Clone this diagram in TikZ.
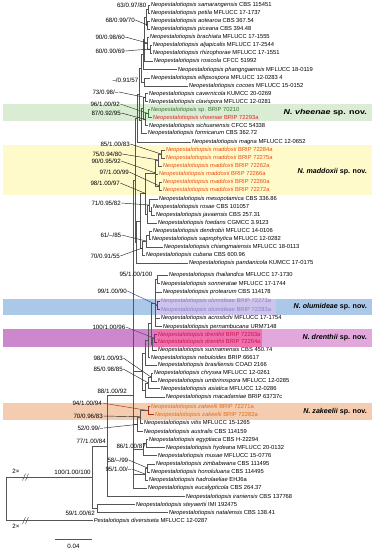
\documentclass[tikz,border=0pt]{standalone}
\usepackage{fontspec}
\setmainfont{Liberation Sans}
\definecolor{treegray}{RGB}{85,85,85}
\definecolor{bandgreen}{RGB}{218,236,212}
\definecolor{bandyellow}{RGB}{255,250,202}
\definecolor{bandblue}{RGB}{172,200,232}
\definecolor{bandlav}{RGB}{205,196,236}
\definecolor{bandpink}{RGB}{226,168,220}
\definecolor{bandpinkL}{RGB}{205,135,205}
\definecolor{bandhot}{RGB}{240,112,172}
\definecolor{bandorange}{RGB}{244,204,176}
\definecolor{txgreen}{RGB}{55,115,55}
\definecolor{txred}{RGB}{232,36,36}
\definecolor{txmad}{RGB}{240,72,22}
\definecolor{txolu}{RGB}{145,125,195}
\definecolor{txdren}{RGB}{195,25,85}
\definecolor{txzak}{RGB}{222,112,30}
\definecolor{lnblue}{RGB}{40,70,150}
\definecolor{lnpurple}{RGB}{125,40,125}
\definecolor{lnbrown}{RGB}{165,50,30}
\definecolor{lngreen}{RGB}{50,130,50}
\tikzset{
  taxon/.style={anchor=west, inner xsep=0.6bp, inner ysep=0pt,
    font=\fontsize{5.8bp}{6.5bp}\selectfont, text height=4.3bp, text depth=1.2bp},
  suplbl/.style={anchor=west, inner sep=0.3bp, font=\fontsize{6.2bp}{7bp}\selectfont},
  br/.style={draw=treegray, line width=0.5bp},
  leader/.style={draw=black!85, line width=0.45bp},
  spname/.style={anchor=east, inner sep=0pt, font=\fontsize{7.1bp}{8bp}\selectfont\bfseries},
}
\newcommand\Np{\textit{Neopestalotiopsis}}
\begin{document}
\begin{tikzpicture}[x=1bp,y=-1bp]
\useasboundingbox (0,0) rectangle (374,550);
\fill[white] (0,0) rectangle (374,550);
% ---------- highlight bands
\fill[bandgreen] (3,104.5) rectangle (372,121.5);
\fill[bandyellow] (3,145) rectangle (372,195);
\fill[bandblue] (3,298.5) rectangle (372,314.5);
\fill[bandlav] (156,298.5) rectangle (276,314.5);
\fill[bandpink] (3,329) rectangle (372,346.5);
\fill[bandpinkL] (3,329) rectangle (153,346.5);
\fill[bandhot] (153,329) rectangle (262,346.5);
\fill[bandorange] (3,402.5) rectangle (372,419.5);
% ---------- species labels
\node[spname, xscale=1.25] (sv) at (367,113) {\textit{N. vheenae} sp. nov.};
\node[spname] (sm) at (367,172) {\textit{N. maddoxii} sp. nov.};
\node[spname] (so) at (367,306.5) {\textit{N. olumideae} sp. nov.};
\node[spname] (sd) at (367,337.5) {\textit{N. drenthii} sp. nov.};
\node[spname] (sz) at (367,411.5) {\textit{N. zakeelii} sp. nov.};
% ---------- taxa
\node[taxon] (L1) at (150,5) {\textit{Neopestalotiopsis samarangensis} CBS 115451};
\node[taxon] (L2) at (150,13) {\textit{Neopestalotiopsis petila} MFLUCC 17-1737};
\node[taxon] (L3) at (150,21) {\textit{Neopestalotiopsis aotearoa} CBS 367.54};
\node[taxon] (L4) at (150,29) {\textit{Neopestalotiopsis piceana} CBS 394.48};
\node[taxon] (L5) at (149,37) {\textit{Neopestalotiopsis brachiata} MFLUCC 17-1555};
\node[taxon] (L6) at (152,45) {\textit{Neopestalotiopsis aljapicalis} MFLUCC 17-2544};
\node[taxon] (L7) at (152,53) {\textit{Neopestalotiopsis rhizophorae} MFLUCC 17-1551};
\node[taxon] (L8) at (153,61) {\textit{Neopestalotiopsis rosicola} CFCC 51992};
\node[taxon] (L9) at (177,69.5) {\textit{Neopestalotiopsis phangngaensis} MFLUCC 18-0119};
\node[taxon] (L10) at (150,78) {\textit{Neopestalotiopsis ellipsospora} MFLUCC 12-0283 4};
\node[taxon] (L11) at (188,86) {\textit{Neopestalotiopsis cocoes} MFLUCC 15-0152};
\node[taxon] (L12) at (148,93.5) {\textit{Neopestalotiopsis cavernicola} KUMCC 20-0269};
\node[taxon] (L13) at (148,101.5) {\textit{Neopestalotiopsis clavispora} MFLUCC 12-0281};
\node[taxon,text=txgreen] (L14) at (150,109.5) {\textit{Neopestalotiopsis} sp. BRIP 70210};
\node[taxon,text=txred] (L15) at (152,117.5) {\textit{Neopestalotiopsis vheenae} BRIP 72293a};
\node[taxon] (L16) at (148,125.5) {\textit{Neopestalotiopsis sichuanensis} CFCC 54338};
\node[taxon] (L17) at (147,133) {\textit{Neopestalotiopsis formicarum} CBS 362.72};
\node[taxon] (L18) at (191,142) {\textit{Neopestalotiopsis magna} MFLUCC 12-0652};
\node[taxon,text=txmad] (L19) at (165,150) {\textit{Neopestalotiopsis maddoxii} BRIP 72284a};
\node[taxon,text=txmad] (L20) at (165,158) {\textit{Neopestalotiopsis maddoxii} BRIP 72275a};
\node[taxon,text=txmad] (L21) at (162,166) {\textit{Neopestalotiopsis maddoxii} BRIP 72262a};
\node[taxon,text=txmad] (L22) at (158,174) {\textit{Neopestalotiopsis maddoxii} BRIP 72266a};
\node[taxon,text=txmad] (L23) at (162,182) {\textit{Neopestalotiopsis maddoxii} BRIP 72260a};
\node[taxon,text=txmad] (L24) at (162,190) {\textit{Neopestalotiopsis maddoxii} BRIP 72272a};
\node[taxon] (L25) at (158,199) {\textit{Neopestalotiopsis mesopotamica} CBS 336.86};
\node[taxon] (L26) at (152,207) {\textit{Neopestalotiopsis rosae} CBS 101057};
\node[taxon] (L27) at (155,215) {\textit{Neopestalotiopsis javaensis} CBS 257.31};
\node[taxon] (L28) at (157,223) {\textit{Neopestalotiopsis foedans} CGMCC 3.9123};
\node[taxon] (L29) at (152,231) {\textit{Neopestalotiopsis dendrobii} MFLUCC 14-0106};
\node[taxon] (L30) at (151,239) {\textit{Neopestalotiopsis saprophytica} MFLUCC 12-0282};
\node[taxon] (L31) at (163,247) {\textit{Neopestalotiopsis chiangmaiensis} MFLUCC 18-0113};
\node[taxon] (L32) at (145,255) {\textit{Neopestalotiopsis cubana} CBS 600.96};
\node[taxon] (L33) at (188,263) {\textit{Neopestalotiopsis pandanicola} KUMCC 17-0175};
\node[taxon] (L34) at (168,275) {\textit{Neopestalotiopsis thailandica} MFLUCC 17-1730};
\node[taxon] (L35) at (160,283.5) {\textit{Neopestalotiopsis sonneratae} MFLUCC 17-1744};
\node[taxon] (L36) at (162,292) {\textit{Neopestalotiopsis protearum} CBS 114178};
\node[taxon,text=txolu] (L37) at (160,301) {\textit{Neopestalotiopsis olumideae} BRIP 72273a};
\node[taxon,text=txolu] (L38) at (160,309.5) {\textit{Neopestalotiopsis olumideae} BRIP 72283a};
\node[taxon] (L39) at (160,318) {\textit{Neopestalotiopsis acrostichi} MFLUCC 17-1754};
\node[taxon] (L40) at (162,326.5) {\textit{Neopestalotiopsis pernambucana} URM7148};
\node[taxon,text=txdren] (L41) at (157,334.5) {\textit{Neopestalotiopsis drenthii} BRIP 72263a};
\node[taxon,text=txdren] (L42) at (157,342) {\textit{Neopestalotiopsis drenthii} BRIP 72264a};
\node[taxon] (L43) at (157,350) {\textit{Neopestalotiopsis surinamensis} CBS 450.74};
\node[taxon] (L44) at (150,357.5) {\textit{Neopestalotiopsis nebuloides} BRIP 66617};
\node[taxon] (L45) at (157,365) {\textit{Neopestalotiopsis brasiliensis} COAD 2166};
\node[taxon] (L46) at (153,373) {\textit{Neopestalotiopsis chrysea} MFLUCC 12-0261};
\node[taxon] (L47) at (157,381) {\textit{Neopestalotiopsis umbrinospora} MFLUCC 12-0285};
\node[taxon] (L48) at (160,388.5) {\textit{Neopestalotiopsis asiatica} MFLUCC 12-0286};
\node[taxon] (L49) at (165,397) {\textit{Neopestalotiopsis macadamiae} BRIP 63737c};
\node[taxon,text=txzak] (L50) at (150,406.5) {\textit{Neopestalotiopsis zakeelii} BRIP 72271a};
\node[taxon,text=txzak] (L51) at (154,414.5) {\textit{Neopestalotiopsis zakeelii} BRIP 72282a};
\node[taxon] (L52) at (143,423) {\textit{Neopestalotiopsis vitis} MFLUCC 15-1265};
\node[taxon] (L53) at (143,431.5) {\textit{Neopestalotiopsis australis} CBS 114159};
\node[taxon] (L54) at (148,439.5) {\textit{Neopestalotiopsis egyptiaca} CBS H-22294};
\node[taxon] (L55) at (165,447.5) {\textit{Neopestalotiopsis hydeana} MFLUCC 20-0132};
\node[taxon] (L56) at (157,455.5) {\textit{Neopestalotiopsis musae} MFLUCC 15-0776};
\node[taxon] (L57) at (155,464) {\textit{Neopestalotiopsis zimbabwana} CBS 111495};
\node[taxon] (L58) at (150,472) {\textit{Neopestalotiopsis honoluluana} CBS 114495};
\node[taxon] (L59) at (148,480) {\textit{Neopestalotiopsis hadrolaeliae} EHJ6a};
\node[taxon] (L60) at (147,488) {\textit{Neopestalotiopsis eucalypticola} CBS 264.37};
\node[taxon] (L61) at (185,496.5) {\textit{Neopestalotiopsis iraniensis} CBS 137768};
\node[taxon] (L62) at (135,504.5) {\textit{Neopestalotiopsis steyaertii} IMI 192475};
\node[taxon] (L63) at (168,512.5) {\textit{Neopestalotiopsis natalensis} CBS 138.41};
\node[taxon] (L64) at (93,520.5) {\textit{Pestalotiopsis diversiseta} MFLUCC 12-0287};
% ---------- internal nodes
\coordinate (a1) at (148,9);
\coordinate (a2) at (147.5,25);
\coordinate (a3) at (146,17);
\coordinate (a4) at (150,49);
\coordinate (a5) at (147.5,43);
\coordinate (a6) at (144.5,39);
\coordinate (a7) at (143,54.25);
\coordinate (a8) at (144,82);
\coordinate (a9) at (141,68.1);
\coordinate (b1) at (145.5,97.5);
\coordinate (b2) at (148,113.5);
\coordinate (b3) at (145.5,119.5);
\coordinate (b4) at (143,108.5);
\coordinate (b5) at (141,120.75);
\coordinate (cc) at (139,94.4);
\coordinate (dm) at (137,118.2);
\coordinate (e1) at (161,154);
\coordinate (e2) at (158.5,160);
\coordinate (e3) at (159.5,186);
\coordinate (e4) at (155.5,173);
\coordinate (f1) at (151,211);
\coordinate (f2) at (149,205);
\coordinate (f3) at (147,214);
\coordinate (g1) at (145.5,193.5);
\coordinate (h1) at (149,235);
\coordinate (h2) at (146,241);
\coordinate (h3) at (142.5,248);
\coordinate (i1) at (140,220.75);
\coordinate (i2) at (136.5,241.9);
\coordinate (uu) at (135,180);
\coordinate (j1) at (157,279.25);
\coordinate (j2) at (157.5,305.25);
\coordinate (j3) at (155,302.9);
\coordinate (k1) at (154.5,338.25);
\coordinate (k2) at (152.5,344.1);
\coordinate (k3) at (151,323.5);
\coordinate (l1) at (148,340.5);
\coordinate (l2) at (145,352.75);
\coordinate (m1) at (151,377);
\coordinate (m2) at (148,382.75);
\coordinate (m3) at (145.5,389.9);
\coordinate (n1) at (142,371.3);
\coordinate (o1) at (148,410.5);
\coordinate (o2) at (140,416.75);
\coordinate (o3) at (137.5,424.4);
\coordinate (p1) at (146,443.5);
\coordinate (p2) at (143,449.5);
\coordinate (q1) at (147.5,468);
\coordinate (q2) at (145,474);
\coordinate (dd) at (133,395);
\coordinate (bb) at (107,445.75);
\coordinate (aa) at (92,477.1);
\coordinate (cg) at (97,508.5);
\coordinate (rt) at (6,498.8);
% ---------- branches
\draw[br] (a1) |- (L1.west) (a1) |- (L2.west);
\draw[br] (a2) |- (L3.west) (a2) |- (L4.west);
\draw[br] (a3) |- (a1) (a3) |- (a2);
\draw[br] (a4) |- (L6.west) (a4) |- (L7.west);
\draw[br] (a5) |- (L5.west) (a5) |- (a4);
\draw[br] (a6) |- (a3) (a6) |- (a5) (a6) |- (L8.west);
\draw[br] (a7) |- (a6) (a7) |- (L9.west);
\draw[br] (a8) |- (L10.west) (a8) |- (L11.west);
\draw[br] (a9) |- (a7) (a9) |- (a8);
\draw[br] (b1) |- (L12.west) (b1) |- (L13.west);
\draw[br,draw=lngreen] (b2) |- (L14.west) (b2) |- (L15.west);
\draw[br] (b3) |- (b2) (b3) |- (L16.west);
\draw[br] (b4) |- (b1) (b4) |- (b3);
\draw[br] (b5) |- (b4) (b5) |- (L17.west);
\draw[br] (cc) |- (a9) (cc) |- (b5);
\draw[br] (dm) |- (cc) (dm) |- (L18.west);
\draw[br] (e1) |- (L19.west) (e1) |- (L20.west);
\draw[br] (e2) |- (e1) (e2) |- (L21.west);
\draw[br] (e3) |- (L23.west) (e3) |- (L24.west);
\draw[br] (e4) |- (e2) (e4) |- (L22.west) (e4) |- (e3);
\draw[br] (f1) |- (L26.west) (f1) |- (L27.west);
\draw[br] (f2) |- (L25.west) (f2) |- (f1);
\draw[br] (f3) |- (f2) (f3) |- (L28.west);
\draw[br] (g1) |- (e4) (g1) |- (f3);
\draw[br] (h1) |- (L29.west) (h1) |- (L30.west);
\draw[br] (h2) |- (h1) (h2) |- (L31.west);
\draw[br] (h3) |- (h2) (h3) |- (L32.west);
\draw[br] (i1) |- (g1) (i1) |- (h3);
\draw[br] (i2) |- (i1) (i2) |- (L33.west);
\draw[br] (uu) |- (dm) (uu) |- (i2);
\draw[br] (j1) |- (L34.west) (j1) |- (L35.west);
\draw[br,draw=lnblue] (j2) |- (L37.west) (j2) |- (L38.west);
\draw[br] (j3) |- (j1) (j3) |- (L36.west) (j3) |- (j2) (j3) |- (L39.west) (j3) |- (L40.west);
\draw[br,draw=lnpurple] (k1) |- (L41.west) (k1) |- (L42.west);
\draw[br] (k2) |- (k1) (k2) |- (L43.west);
\draw[br] (k3) |- (j3) (k3) |- (k2);
\draw[br] (l1) |- (k3) (l1) |- (L44.west);
\draw[br] (l2) |- (l1) (l2) |- (L45.west);
\draw[br] (m1) |- (L46.west) (m1) |- (L47.west);
\draw[br] (m2) |- (m1) (m2) |- (L48.west);
\draw[br] (m3) |- (m2) (m3) |- (L49.west);
\draw[br] (n1) |- (l2) (n1) |- (m3);
\draw[br,draw=lnbrown] (o1) |- (L50.west) (o1) |- (L51.west);
\draw[br] (o2) |- (o1) (o2) |- (L52.west);
\draw[br] (o3) |- (o2) (o3) |- (L53.west);
\draw[br] (p1) |- (L54.west) (p1) |- (L55.west);
\draw[br] (p2) |- (p1) (p2) |- (L56.west);
\draw[br] (q1) |- (L57.west) (q1) |- (L58.west);
\draw[br] (q2) |- (q1) (q2) |- (L59.west);
\draw[br] (dd) |- (uu) (dd) |- (n1) (dd) |- (o3) (dd) |- (p2) (dd) |- (q2) (dd) |- (L60.west);
\draw[br] (bb) |- (dd) (bb) |- (L61.west);
\draw[br] (cg) |- (L62.west) (cg) |- (L63.west);
\draw[br] (aa) |- (bb) (aa) |- (cg);
\draw[br] (rt) |- (aa) (rt) |- (L64.west);
% ---------- breaks on the root branches
\coordinate (bk1a) at (22.5,480.6); \coordinate (bk1b) at (25.5,473.6);
\coordinate (bk1c) at (25.5,480.6); \coordinate (bk1d) at (28.5,473.6);
\coordinate (bk2a) at (22.5,524); \coordinate (bk2b) at (25.5,517);
\coordinate (bk2c) at (25.5,524); \coordinate (bk2d) at (28.5,517);
\draw[br] (bk1a) -- (bk1b) (bk1c) -- (bk1d) (bk2a) -- (bk2b) (bk2c) -- (bk2d);
\node[suplbl] (two1) at (12,471) {2×};
\node[suplbl] (two2) at (12,526) {2×};
% ---------- support values
\node[suplbl] (s1) at (116.5,5) {63/0.97/80};
\node[suplbl] (s2) at (105,20) {68/0.99/70};
\node[suplbl] (s3) at (95,37) {90/0.98/60};
\node[suplbl] (s4) at (95,51) {60/0.90/69};
\node[suplbl] (s5) at (112,80) {–/0.91/57};
\node[suplbl] (s6) at (92,92) {73/0.98/–};
\node[suplbl] (s7) at (90,104) {96/1.00/92};
\node[suplbl] (s8) at (91,113) {87/0.92/95};
\node[suplbl] (s9) at (100,144) {85/1.00/83};
\node[suplbl] (s10) at (92,154) {75/0.94/80};
\node[suplbl] (s11) at (91,161) {90/0.95/92};
\node[suplbl] (s12) at (99,172) {97/1.00/99};
\node[suplbl] (s13) at (90,183) {98/1.00/97};
\node[suplbl] (s14) at (91,203) {71/0.95/82};
\node[suplbl] (s15) at (100,235) {61/–/85};
\node[suplbl] (s16) at (90,256) {70/0.91/55};
\node[suplbl] (s17) at (119,274) {95/1.00/100};
\node[suplbl] (s18) at (97,291) {99/1.00/90};
\node[suplbl] (s19) at (92,327) {100/1.00/96};
\node[suplbl] (s20) at (93,358) {98/1.00/93};
\node[suplbl] (s21) at (93,369) {85/0.98/85};
\node[suplbl] (s22) at (97,391) {88/1.00/92};
\node[suplbl] (s23) at (72,403) {94/1.00/94};
\node[suplbl] (s24) at (73,416) {70/0.96/83};
\node[suplbl] (s25) at (77,428) {52/0.99/–};
\node[suplbl] (s26) at (76,441) {77/1.00/84};
\node[suplbl] (s27) at (116,446.5) {86/1.00/87};
\node[suplbl] (s28) at (107,460) {58/–/99};
\node[suplbl] (s29) at (105,469) {95/1.00/–};
\node[suplbl] (s30) at (54,472) {100/1.00/100};
\node[suplbl] (s31) at (65,513) {59/1.00/62};
% ---------- leader lines
\draw[leader] (s2.east) -- (a2);
\draw[leader] (s3.east) -- (a5);
\draw[leader] (s4.east) -- (a4);
\draw[leader] (s6.east) -- (b1);
\draw[leader,draw=lngreen!70!black] (s7.east) -- (b2);
\draw[leader] (s8.east) -- (b3);
\draw[leader] (s9.east) -- (e1);
\draw[leader] (s10.east) -- (e2);
\draw[leader] (s11.east) -- (e4);
\draw[leader] (s12.east) -- (e3);
\draw[leader] (s13.east) -- (g1);
\draw[leader] (s14.east) -- (f2);
\draw[leader] (s15.east) -- (h2);
\draw[leader] (s16.east) -- (h3);
\draw[leader,draw=lnblue] (s18.east) -- (j2);
\draw[leader,draw=lnpurple] (s19.east) -- (k1);
\draw[leader] (s20.east) -- (m1);
\draw[leader] (s21.east) -- (m2);
\draw[leader,draw=lnbrown] (s23.east) -- (o1);
\draw[leader] (s24.east) -- (o2);
\draw[leader] (s25.east) -- (o3);
\draw[leader] (s28.east) -- (q1);
\draw[leader] (s29.east) -- (q2);
% ---------- scale bar
\coordinate (sb1) at (55,539.5);
\coordinate (sb2) at (92,539.5);
\draw[br] (sb1) -- (sb2);
\node[suplbl, anchor=center] (sbl) at (73.5,546.5) {0.04};
\end{tikzpicture}
\end{document}
